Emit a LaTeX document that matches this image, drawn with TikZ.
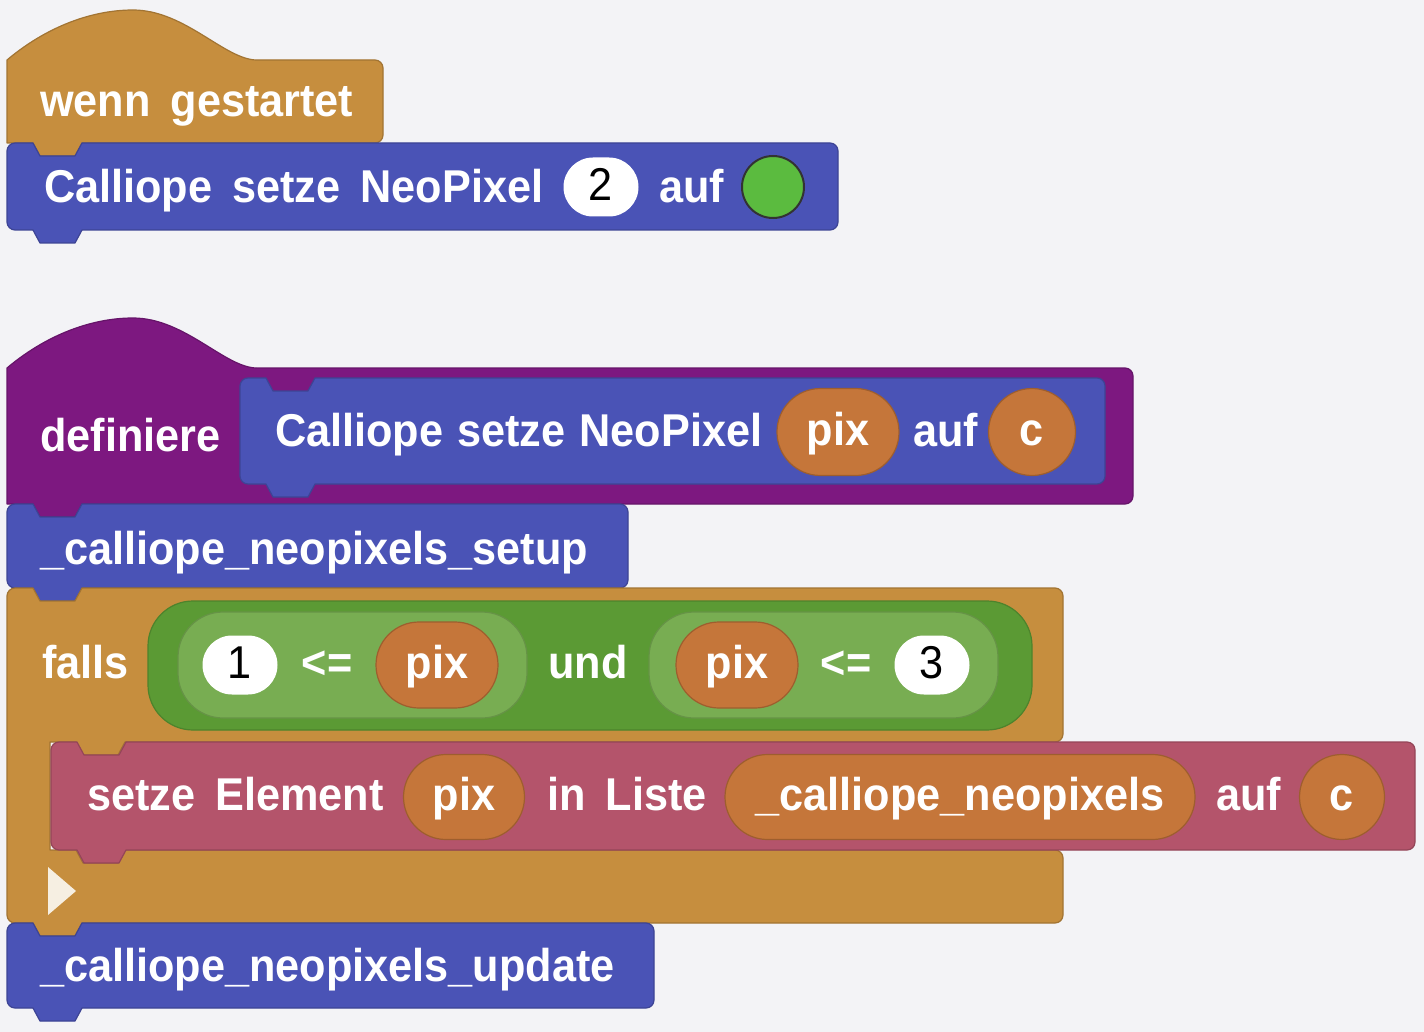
\documentclass[tikz,border=0pt]{standalone}
\usepackage{fontspec}
\newfontfamily\blockfont{Liberation Sans}[FakeStretch=0.94]
\usetikzlibrary{shapes.misc}

\definecolor{bgGrey}{HTML}{F3F3F6}
\definecolor{hatOrange}{HTML}{C68E3E}
\definecolor{procBlue}{HTML}{4A53B6}
\definecolor{procPurple}{HTML}{7D1880}
\definecolor{varOrange}{HTML}{C5763A}
\definecolor{logicGreen}{HTML}{5B9A34}
\definecolor{logicLight}{HTML}{78AD52}
\definecolor{listPink}{HTML}{B4546B}
\definecolor{ledGreen}{HTML}{5BBB3F}
\definecolor{arrowCream}{HTML}{F6EFE2}

\newcommand{\blocktext}{\blockfont\bfseries\fontsize{46}{50}\selectfont\spaceskip=20pt\relax}
\newcommand{\prototext}{\blocktext\spaceskip=14pt\relax}

\tikzset{
  blk/.style={line width=1.2pt, line join=round, fill=#1, draw=#1!82!black},
  lbl/.style={font=\blocktext, text=white, inner sep=0pt, text height=33pt, text depth=6pt, anchor=west},
  pill/.style={rounded rectangle, inner sep=0pt, minimum height=86pt, fill=varOrange, draw=varOrange!80!black, line width=1.2pt, font=\blocktext, text=white, text height=33pt, text depth=6pt},
  numpill/.style={rounded rectangle, inner sep=0pt, minimum height=59pt, minimum width=75pt, fill=white, font=\blockfont\fontsize{46}{50}\selectfont, text=black, text height=33pt, text depth=6pt},
  boolbox/.style={rectangle, rounded corners=45pt, inner sep=0pt, line width=1.2pt, fill=#1, draw=#1!85!black}
}

% statement block: colour, left, top, right, bottom
\newcommand{\stmtblock}[5]{%
  \draw[blk=#1] (#2,#3+8) arc[start angle=180,end angle=270,radius=8]
    -- (#2+26,#3) -- (#2+33,#3+13) -- (#2+68,#3+13) -- (#2+75,#3)
    -- (#4-8,#3) arc[start angle=270,end angle=360,radius=8]
    -- (#4,#5-8) arc[start angle=0,end angle=90,radius=8]
    -- (#2+75,#5) -- (#2+68,#5+13) -- (#2+33,#5+13) -- (#2+26,#5)
    -- (#2+8,#5) arc[start angle=90,end angle=180,radius=8] -- cycle;}

% hat block: colour, top, right, bottom
\newcommand{\hatblock}[4]{%
  \draw[blk=#1] (7,#4) -- (7,#2) .. controls (45,#2-32) and (90,#2-50) .. (133,#2-50)
    .. controls (185,#2-50) and (225,#2) .. (257,#2)
    -- (#3-8,#2) arc[start angle=270,end angle=360,radius=8]
    -- (#3,#4-8) arc[start angle=0,end angle=90,radius=8]
    -- (82,#4) -- (75,#4+13) -- (40,#4+13) -- (33,#4) -- cycle;}

\begin{document}
\begin{tikzpicture}[x=1pt,y=1pt,yscale=-1]
  \useasboundingbox (0,0) rectangle (1424,1032);
  \fill[bgGrey] (0,0) rectangle (1424,1032);

  % first script
  \hatblock{hatOrange}{60}{383}{143}
  \stmtblock{procBlue}{7}{143}{838}{230}
  \node[lbl] (start) at (40,103.5) {wenn gestartet};
  \node[lbl] (setpix) at (44,189.5) {Calliope setze NeoPixel};
  \node[numpill] (pixnum) at (601,187) {2};
  \node[lbl] (auf1) at (659,189.5) {auf};
  \node[circle, fill=ledGreen, draw=black!80, line width=2pt, minimum size=62pt, inner sep=0pt] (led) at (773,187) {};

  % definition
  \hatblock{procPurple}{368}{1133}{504}
  \stmtblock{procBlue}{240}{378}{1105}{484}
  \node[lbl] (define) at (40,437.5) {definiere};
  \node[lbl, font=\prototext] (proto) at (275,432.5) {Calliope setze NeoPixel};
  \node[pill, minimum width=122pt, minimum height=87pt] (protopix) at (838,432) {pix};
  \node[lbl] (auf2) at (913,432.5) {auf};
  \node[pill, minimum width=83pt, minimum height=87pt] (protoc) at (1032,432) {c};

  \stmtblock{procBlue}{7}{504}{628}{588}
  \node[lbl] (setup) at (40,550.5) {\_calliope\_neopixels\_setup};

  % falls block
  \draw[blk=hatOrange] (7,596) arc[start angle=180,end angle=270,radius=8]
    -- (33,588) -- (40,601) -- (75,601) -- (82,588)
    -- (1055,588) arc[start angle=270,end angle=360,radius=8]
    -- (1063,734) arc[start angle=0,end angle=90,radius=8]
    -- (125,742) -- (118,755) -- (83,755) -- (76,742) -- (50,742)
    -- (50,850) -- (76,850) -- (83,863) -- (118,863) -- (125,850)
    -- (1055,850) arc[start angle=270,end angle=360,radius=8]
    -- (1063,915) arc[start angle=0,end angle=90,radius=8]
    -- (82,923) -- (75,936) -- (40,936) -- (33,923)
    -- (15,923) arc[start angle=90,end angle=180,radius=8] -- cycle;
  \node[lbl] (falls) at (42,665) {falls};
  \node[boolbox=logicGreen, minimum width=884pt, minimum height=129pt] (andbox) at (590,665.5) {};
  \node[boolbox=logicLight, minimum width=349pt, minimum height=106pt] (cmpa) at (352.5,665) {};
  \node[boolbox=logicLight, minimum width=349pt, minimum height=106pt] (cmpb) at (823.5,665) {};
  \node[numpill] (one) at (240,665) {1};
  \node[lbl, anchor=center] (lea) at (327,665) {<=};
  \node[pill, minimum width=122pt] (pixa) at (437,665) {pix};
  \node[lbl, anchor=center] (und) at (588,665) {und};
  \node[pill, minimum width=122pt] (pixb) at (737,665) {pix};
  \node[lbl, anchor=center] (leb) at (846,665) {<=};
  \node[numpill] (three) at (932,665) {3};

  \stmtblock{listPink}{51}{742}{1415}{850}
  \node[lbl] (setel) at (87,797) {setze Element};
  \node[pill, minimum width=121pt, minimum height=85pt] (listpix) at (464,797) {pix};
  \node[lbl] (inlist) at (547,797) {in Liste};
  \node[pill, minimum width=470pt, minimum height=85pt] (listname) at (960,797) {\_calliope\_neopixels};
  \node[lbl] (auf3) at (1216,797) {auf};
  \node[pill, minimum width=81pt, minimum height=85pt] (listc) at (1342,797) {c};

  \fill[arrowCream] (48,867) -- (76,891) -- (48,915) -- cycle;

  \stmtblock{procBlue}{7}{923}{654}{1008}
  \node[lbl] (update) at (40,967.5) {\_calliope\_neopixels\_update};
\end{tikzpicture}
\end{document}
